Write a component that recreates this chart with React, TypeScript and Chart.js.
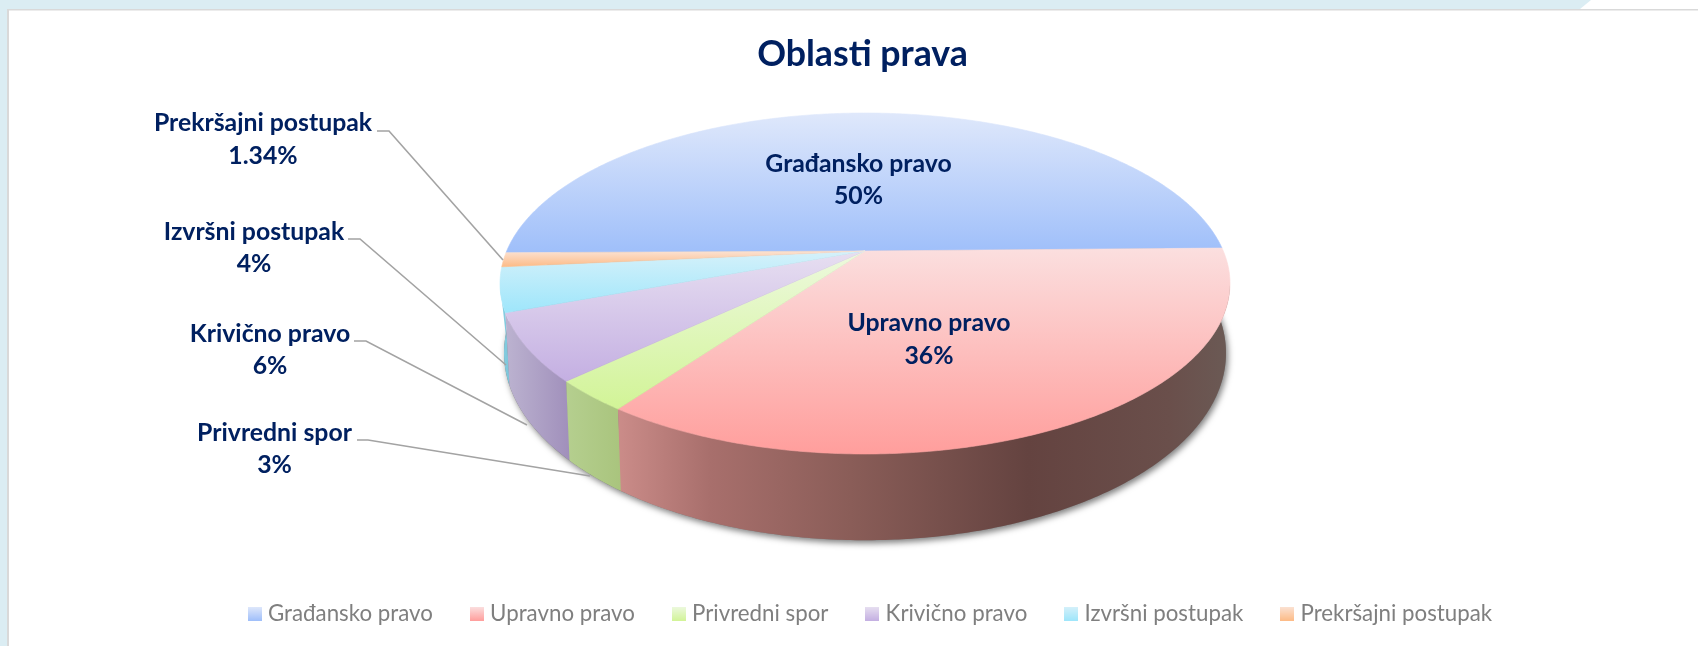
import React, { useEffect, useRef } from "react";
import { Chart, registerables, ArcElement, PieController } from "chart.js";

// ---------- data ----------
const categories = ["Građansko pravo", "Upravno pravo", "Privredni spor", "Krivično pravo", "Izvršni postupak", "Prekršajni postupak"];
const shares = [49.9, 35.2, 3.0, 6.4, 4.2, 1.34];
const shareLabels = ["50%", "36%", "3%", "6%", "4%", "1.34%"];
const chartTitle = "Oblasti prava";

// ---------- styles ----------
const W = 1698, H = 646;
const NAVY = "#002060";
const FONT = "Lato, Carlito, 'Open Sans', sans-serif";
const faceColors = [
  ["#dfe8fb", "#9fbffa"], ["#fbdfdf", "#ff9e9c"], ["#edf9de", "#d2f497"],
  ["#e7dff1", "#c4afe2"], ["#d5f1fa", "#9ee6fb"], ["#fbe2d3", "#fdbb86"],
];
const sideColors: (string[] | null)[] = [
  null,
  ["#cb8c89", "#a86f6c", "#8a5d58", "#644340", "#6a4f4b", "#6b5a55"],
  ["#b5cf8f", "#a9c47d"],
  ["#bcb3d0", "#a08fbb"],
  ["#8fd3e6", "#78c4d8"],
  null,
];
const topPlane = { cx: 865, cy: 251, rx: 358.3, ry: 164.3, k: 0.1906 };
const basePlane = { cx: 865, cy: 317.5, rx: 354.4, ry: 180.4, k: 0.19 };
const TANGENT = Math.asin(topPlane.k);
const LEGEND_SHIFT = 10;
// text centres (x, first line y, second line y), and leader polylines
const labelSpots = [
  { x: 858.5, y1: 164, y2: 196, line: null },
  { x: 929, y1: 323, y2: 356, line: null },
  { x: 274.5, y1: 433, y2: 465, line: [[357, 440], [368, 440], [590, 476]] },
  { x: 270, y1: 334, y2: 366, line: [[354, 341], [366, 341], [527, 425]] },
  { x: 254, y1: 232, y2: 264, line: [[348, 239], [360, 239], [506, 365]] },
  { x: 263, y1: 123, y2: 156, line: [[377, 131], [389, 131], [503, 260]] },
];

type Plane = typeof topPlane;
function project(p: Plane, a: number): [number, number] {
  const u = Math.cos(a), v = Math.sin(a), d = 1 - p.k * v;
  return [p.cx + (p.rx * u) / d, p.cy + (p.ry * v) / d];
}
function rim(p: Plane, a0: number, a1: number) {
  const n = Math.max(2, Math.ceil(Math.abs(a1 - a0) / 0.01));
  const pts: [number, number][] = [];
  for (let i = 0; i <= n; i++) pts.push(project(p, a0 + ((a1 - a0) * i) / n));
  return pts;
}

// Arc element drawn as a perspective-projected slice of the flat pie.
class Arc3D extends ArcElement {
  static id = "arc3d";
  draw(ctx: CanvasRenderingContext2D) {
    const { startAngle, endAngle } = (this as any).getProps(["startAngle", "endAngle"]);
    const pts = rim(topPlane, startAngle, endAngle);
    const ys = pts.map((q) => q[1]).concat(topPlane.cy);
    const i = (this as any).$context?.index ?? 0;
    const g = ctx.createLinearGradient(0, Math.min(...ys), 0, Math.max(...ys));
    g.addColorStop(0, faceColors[i][0]);
    g.addColorStop(1, faceColors[i][1]);
    ctx.save();
    ctx.beginPath();
    ctx.moveTo(topPlane.cx, topPlane.cy);
    pts.forEach((q) => ctx.lineTo(q[0], q[1]));
    ctx.closePath();
    ctx.fillStyle = g;
    ctx.fill();
    ctx.strokeStyle = g;
    ctx.lineWidth = 0.6;
    ctx.stroke();
    ctx.restore();
  }
  drawWall(ctx: CanvasRenderingContext2D, i: number) {
    const stops = sideColors[i];
    if (!stops) return;
    let { startAngle: s, endAngle: e } = (this as any).getProps(["startAngle", "endAngle"]);
    while (s >= 1.5 * Math.PI) {
      s -= 2 * Math.PI;
      e -= 2 * Math.PI;
    }
    const upper = rim(topPlane, Math.max(s, TANGENT), Math.min(e, Math.PI - TANGENT));
    const lower = rim(basePlane, s - 0.004, e);
    const xs = upper.concat(lower).map((q) => q[0]);
    const g = ctx.createLinearGradient(Math.min(...xs), 0, Math.max(...xs), 0);
    if (stops.length === 6) {
      [0, 0.15, 0.38, 0.67, 0.9, 1].forEach((t, j) => g.addColorStop(t, stops[j]));
    } else {
      stops.forEach((c, j) => g.addColorStop(j / (stops.length - 1), c));
    }
    ctx.beginPath();
    upper.forEach((q, j) => (j ? ctx.lineTo(q[0], q[1]) : ctx.moveTo(q[0], q[1])));
    lower.reverse().forEach((q) => ctx.lineTo(q[0], q[1]));
    ctx.closePath();
    ctx.fillStyle = g;
    ctx.fill();
  }
}
class Pie3DController extends PieController {
  static id = "pie3d";
  static defaults = { dataElementType: "arc3d" };
}

const backdrop = {
  id: "backdrop",
  afterLayout(chart: any) {
    chart.legend.left += LEGEND_SHIFT;
    chart.legend.right += LEGEND_SHIFT;
  },
  beforeDraw(chart: any) {
    const c = chart.ctx;
    c.save();
    c.fillStyle = "#ffffff";
    c.fillRect(0, 0, W, H);
    c.fillStyle = "#dbedf3";
    c.beginPath();
    c.moveTo(0, 0);
    c.lineTo(1591, 0);
    c.lineTo(1580, 9);
    c.lineTo(8, 9);
    c.lineTo(8, H);
    c.lineTo(0, H);
    c.closePath();
    c.fill();
    c.fillStyle = "#d9d9d9";
    c.fillRect(7, 9, W - 7, 1.5);
    c.fillRect(7, 9, 2, H - 9);
    c.restore();
  },
};

const walls = {
  id: "walls",
  beforeDatasetsDraw(chart: any) {
    const c = chart.ctx;
    const arcs = chart.getDatasetMeta(0).data;
    c.save();
    c.shadowColor = "rgba(0,0,0,0.5)";
    c.shadowBlur = 6;
    c.shadowOffsetX = 2;
    c.shadowOffsetY = 3;
    c.fillStyle = "#7d7d7d";
    c.beginPath();
    rim(basePlane, 0, Math.PI * 2).forEach((q, j) => (j ? c.lineTo(q[0], q[1]) : c.moveTo(q[0], q[1])));
    c.closePath();
    c.fill();
    c.restore();
    c.save();
    [4, 3, 2, 1].forEach((i) => arcs[i].drawWall(c, i));
    c.restore();
  },
};

const sliceLabels = {
  id: "sliceLabels",
  afterDatasetsDraw(chart: any) {
    const c = chart.ctx;
    c.save();
    labelSpots.forEach((s) => {
      if (!s.line) return;
      c.beginPath();
      s.line.forEach((q, j) => (j ? c.lineTo(q[0], q[1]) : c.moveTo(q[0], q[1])));
      c.strokeStyle = "#a3a3a3";
      c.lineWidth = 1.6;
      c.stroke();
    });
    c.font = `bold 24.8px ${FONT}`;
    c.fillStyle = NAVY;
    c.textAlign = "center";
    c.textBaseline = "middle";
    labelSpots.forEach((s, i) => {
      c.fillText(categories[i], s.x, s.y1);
      c.fillText(shareLabels[i], s.x, s.y2);
    });
    c.restore();
  },
};

function swatch(i: number) {
  const cv = document.createElement("canvas");
  cv.width = 14;
  cv.height = 14;
  const x = cv.getContext("2d")!;
  const g = x.createLinearGradient(0, 0, 0, 14);
  g.addColorStop(0, faceColors[i][0]);
  g.addColorStop(1, faceColors[i][1]);
  x.fillStyle = g;
  x.fillRect(0, 0, 14, 14);
  return cv;
}

Chart.register(...registerables);
Chart.register(Arc3D as any, Pie3DController as any);

export default function App() {
  const ref = useRef<HTMLCanvasElement>(null);
  useEffect(() => {
    const chart = new Chart(ref.current!, {
      type: "pie3d" as any,
      data: {
        labels: categories,
        datasets: [{ data: shares, rotation: 269.4 } as any],
      },
      options: {
        responsive: false,
        maintainAspectRatio: false,
        animation: false,
        layout: { padding: { left: 27, right: 0, top: 33, bottom: 11 } },
        plugins: {
          tooltip: { enabled: false },
          title: {
            display: true,
            text: chartTitle,
            color: NAVY,
            font: { family: FONT, size: 35.7, weight: "bold" },
            padding: { top: 0, bottom: 0 },
          },
          legend: {
            display: true,
            position: "bottom",
            labels: {
              usePointStyle: true,
              pointStyleWidth: 4,
              padding: 42,
              font: { family: FONT, size: 22.3 },
              generateLabels: () =>
                categories.map((t, i) => ({
                  text: t,
                  fontColor: "#7f7f7f",
                  fillStyle: faceColors[i][1],
                  strokeStyle: faceColors[i][1],
                  lineWidth: 0,
                  pointStyle: swatch(i),
                  hidden: false,
                  index: i,
                })),
            },
          },
        },
      } as any,
      plugins: [backdrop, walls, sliceLabels],
    } as any);
    return () => chart.destroy();
  }, []);
  return <canvas ref={ref} width={W} height={H} style={{ position: "absolute", left: 0, top: 0, display: "block" }} />;
}
